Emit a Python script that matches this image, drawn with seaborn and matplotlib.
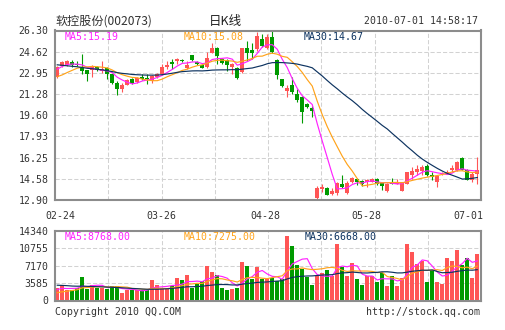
import numpy as np
import pandas as pd
import matplotlib
matplotlib.use("Agg")
import matplotlib.pyplot as plt
import seaborn as sns

# ---------------- data ----------------
x_labels = ["02-24", "03-26", "04-28", "05-28", "07-01"]

opens = [22.64, 23.49, 23.57, 23.80, 23.67, 23.45, 23.14, 23.14, 23.41, 23.09,
         23.36, 22.83, 22.16, 21.69, 22.03, 22.50, 22.25, 22.64, 22.56, 22.30,
         22.61, 22.83, 23.41, 23.84, 23.89, 23.97, 23.36, 24.34, 23.81, 23.57,
         23.41, 24.55, 24.95, 24.02, 23.97, 23.41, 23.36, 23.03, 24.89, 24.78,
         24.80, 25.59, 24.90, 25.80, 23.95, 22.45, 21.52, 22.00, 21.29, 21.05,
         20.48, 20.19, 13.05, 13.77, 13.87, 13.40, 13.45, 14.13, 13.45, 14.34,
         14.55, 14.39, 14.29, 14.34, 14.58, 14.24, 13.60, 14.31, 14.18, 13.65,
         14.18, 14.90, 15.11, 15.19, 15.56, 14.90, 14.31, 14.98, 14.98, 15.29,
         15.24, 16.24, 15.29, 14.50, 14.98]
highs = [23.50, 23.85, 23.95, 23.95, 23.89, 24.42, 23.20, 23.55, 23.49, 23.89,
         23.40, 22.88, 22.30, 22.16, 22.43, 22.56, 22.61, 22.83, 22.83, 22.75,
         22.96, 23.62, 23.89, 24.02, 24.15, 24.02, 23.89, 24.37, 23.89, 23.67,
         24.60, 25.35, 25.00, 24.15, 24.02, 23.75, 23.41, 24.95, 25.47, 25.35,
         26.20, 26.00, 25.99, 26.30, 24.05, 22.50, 22.00, 22.65, 21.70, 21.10,
         20.55, 20.30, 14.00, 14.13, 13.95, 13.87, 14.30, 14.87, 14.40, 14.70,
         14.65, 14.45, 14.55, 14.65, 14.60, 14.26, 14.24, 14.66, 14.58, 14.31,
         15.15, 15.50, 15.63, 15.63, 15.76, 15.10, 14.85, 15.15, 15.30, 15.63,
         15.95, 16.27, 15.37, 15.15, 16.27]
lows = [22.54, 23.40, 23.50, 23.45, 23.49, 22.90, 22.30, 22.61, 23.09, 22.96,
        22.50, 22.08, 21.24, 21.42, 21.98, 22.10, 22.16, 22.35, 22.08, 22.16,
        22.56, 22.78, 23.22, 23.22, 23.62, 23.81, 23.22, 23.89, 23.57, 23.30,
        23.36, 24.50, 23.62, 23.62, 23.09, 22.83, 22.50, 22.96, 23.89, 24.02,
        24.65, 25.00, 24.80, 24.50, 22.45, 21.85, 21.05, 21.25, 20.68, 18.97,
        20.20, 19.45, 12.90, 13.55, 13.26, 13.28, 13.30, 13.87, 13.35, 14.28,
        14.10, 14.00, 13.95, 14.30, 14.10, 13.71, 13.55, 14.13, 14.15, 13.60,
        14.15, 14.58, 14.85, 14.90, 14.80, 14.45, 13.91, 14.85, 14.95, 15.10,
        15.20, 15.25, 14.45, 14.31, 14.18]
closes = [23.41, 23.79, 23.89, 23.55, 23.55, 23.12, 22.83, 23.49, 23.14, 23.22,
          22.83, 22.16, 21.69, 22.03, 22.35, 22.16, 22.56, 22.43, 22.43, 22.69,
          22.83, 23.41, 23.57, 23.62, 24.02, 23.89, 23.57, 23.97, 23.62, 23.36,
          24.15, 24.95, 24.28, 23.75, 23.57, 23.62, 22.56, 24.89, 24.55, 24.55,
          25.90, 25.06, 25.78, 24.60, 22.75, 21.93, 21.78, 21.40, 20.78, 19.83,
          20.26, 19.97, 13.81, 13.94, 13.30, 13.62, 14.21, 13.91, 14.27, 14.61,
          14.29, 14.13, 14.47, 14.58, 14.18, 13.98, 14.18, 14.18, 14.31, 14.31,
          15.11, 15.19, 15.37, 15.50, 14.90, 14.71, 14.77, 15.05, 15.15, 15.45,
          15.90, 15.29, 14.50, 14.98, 15.24]
volumes = [2632, 3117, 2078, 2216, 2632, 4779, 2424, 3256, 2632, 2563,
           2424, 2909, 2909, 1524, 2078, 2078, 2216, 2078, 2216, 4156,
           3117, 2563, 2563, 3047, 4571, 4156, 5195, 2632, 3463, 3948,
           7135, 5888, 5195, 2563, 2216, 2424, 2632, 7966, 7135, 4450,
           7000, 4400, 4364, 4710, 4017, 4364, 13373, 11226, 7274, 6442,
           4848, 3117, 5056, 5749, 6234, 4987, 11641, 6927, 4987, 7758,
           4364, 3117, 4987, 4987, 3740, 5680, 2909, 4987, 2909, 4710,
           11641, 9909, 7481, 8104, 3810, 6234, 3810, 3325, 8866, 8104,
           10493, 7274, 8797, 4710, 9558]
# history before the first shown day (only feeds the moving averages)
prior_closes = [24.9, 25.1, 24.8, 24.6, 24.9, 24.7, 24.5, 24.6, 24.4, 24.7, 24.5,
                24.1, 23.8, 23.5, 23.6, 23.2, 23.0, 22.8, 22.7, 22.7,
                22.4, 22.0, 21.8, 21.9, 22.2,
                22.7, 23.1, 23.4, 23.6]
prior_volumes = [4200, 3800, 4500, 3600, 4100, 3900, 4300, 3700, 3500, 4000,
                 4400, 3800, 3600, 4200, 3900, 3700, 4100, 3800, 3900, 3500,
                 1100, 900, 800, 1000, 950,
                 1800, 2300, 2100, 2420]

price_tick_values = [12.90, 14.58, 16.25, 17.93, 19.60, 21.28, 22.95, 24.62, 26.30]
price_tick_labels = ["12.90", "14.58", "16.25", "17.93", "19.60", "21.28", "22.95", "24.62", "26.30"]
vol_tick_values = [0, 3585, 7170, 10755, 14340]
vol_tick_labels = ["0", "3585", "7170", "10755", "14340"]

title_left = "软控股份(002073)"
title_mid = "日K线"
title_right = "2010-07-01 14:58:17"
ma_price_text = ["MA5:15.19", "MA10:15.08", "MA30:14.67"]
ma_vol_text = ["MA5:8768.00", "MA10:7275.00", "MA30:6668.00"]
footer_left = "Copyright 2010 QQ.COM"
footer_right = "http://stock.qq.com"

# ---------------- styling ----------------
RED = "#ff5555"
GREEN = "#009a00"
C_MA5 = "#ff22ff"
C_MA10 = "#ffa31a"
C_MA30 = "#0d3360"
GRID = "#d2d2d2"
BORDER = "#8c8c8c"
TXT = "#333333"
MONO = "DejaVu Sans Mono"
FS = 7.1

W, H = 505, 330
def fx(px):
    return px / W
def fy(py):
    return 1 - py / H

n = len(closes)
idx = np.arange(n)
o = np.array(opens); c = np.array(closes)
hi = np.array(highs); lo = np.array(lows)
vol = np.array(volumes, dtype=float)
up = c >= o
direction = np.where(up, "up", "down")
colors = np.where(up, RED, GREEN)

allc = pd.Series(prior_closes + closes)
allv = pd.Series(prior_volumes + volumes, dtype=float)
k = len(prior_closes)
ma_p = {m: allc.rolling(m).mean().to_numpy()[k:] for m in (5, 10, 30)}
ma_v = {m: allv.rolling(m).mean().to_numpy()[k:] for m in (5, 10, 30)}

fig = plt.figure(figsize=(W / 100, H / 100), dpi=100)
fig.patch.set_facecolor("white")

ax = fig.add_axes([fx(55), fy(200), fx(481) - fx(55), fy(30.5) - fy(200)])
axv = fig.add_axes([fx(55), fy(300.5), fx(481) - fx(55), fy(231) - fy(300.5)])

x0, x1 = -0.45, n - 0.25
xgrid = np.linspace(x0, x1, 9)

# ---- candles ----
ax.vlines(idx, lo, hi, colors=colors, linewidth=0.8, zorder=3)
ax.bar(idx, np.maximum(np.abs(c - o), 0.03), bottom=np.minimum(o, c), width=0.8,
       color=colors, linewidth=0, zorder=4)

for m, col in ((5, C_MA5), (10, C_MA10), (30, C_MA30)):
    sns.lineplot(x=idx, y=ma_p[m], ax=ax, color=col, linewidth=0.85, zorder=5,
                 estimator=None)

# ---- volume ----
dfv = pd.DataFrame({"i": idx, "vol": vol, "dir": direction})
sns.barplot(data=dfv, x="i", y="vol", hue="dir", palette={"up": RED, "down": GREEN},
            dodge=False, width=0.8, saturation=1, linewidth=0, legend=False,
            ax=axv, zorder=3)
for m, col in ((5, C_MA5), (10, C_MA10), (30, C_MA30)):
    sns.lineplot(x=idx, y=ma_v[m], ax=axv, color=col, linewidth=0.85, zorder=5,
                 estimator=None)

# ---- axes formatting ----
for a in (ax, axv):
    a.set_xlim(x0, x1)
    a.set_xticks(xgrid[1:-1])
    a.set_xticklabels([])
    a.set_xlabel("")
    a.set_ylabel("")
    a.tick_params(length=0, labelsize=FS, labelcolor=TXT, pad=4.5)
    a.grid(True, color=GRID, linestyle=(0, (4, 2)), linewidth=0.75)
    a.set_axisbelow(True)
    for s in a.spines.values():
        s.set_color(BORDER)
        s.set_linewidth(1.5)
        s.set_zorder(10)
    a.set_facecolor("white")

ax.set_ylim(12.90, 26.30)
ax.set_yticks(price_tick_values)
ax.set_yticklabels(price_tick_labels, fontfamily=MONO)
axv.set_ylim(0, 14340)
axv.set_yticks(vol_tick_values)
axv.set_yticklabels(vol_tick_labels, fontfamily=MONO)

# ---- texts ----
fig.text(fx(55), fy(21.5), title_left, ha="left", va="center", fontsize=8.7,
         color=TXT, family=["Noto Sans CJK SC", "DejaVu Sans"])
fig.text(fx(225), fy(21.5), title_mid, ha="center", va="center", fontsize=9,
         color="#222222", family=["Noto Sans CJK SC", "DejaVu Sans"])
fig.text(fx(478), fy(21.5), title_right, ha="right", va="center", fontsize=FS,
         color=TXT, family=MONO)

for txt, col, px in zip(ma_price_text, (C_MA5, C_MA10, C_MA30), (65, 184, 304)):
    fig.text(fx(px), fy(37), txt, ha="left", va="center", fontsize=FS, color=col,
             family=MONO)
for txt, col, px in zip(ma_vol_text, (C_MA5, C_MA10, C_MA30), (65, 184, 305)):
    fig.text(fx(px), fy(237.5), txt, ha="left", va="center", fontsize=FS, color=col,
             family=MONO)

for lab, px in zip(x_labels, (60, 161.5, 265, 366.5, 468)):
    fig.text(fx(px), fy(216), lab, ha="center", va="center", fontsize=FS,
             color=TXT, family=MONO)

fig.text(fx(55), fy(312), footer_left, ha="left", va="center", fontsize=FS,
         color=TXT, family=MONO)
fig.text(fx(480), fy(312), footer_right, ha="right", va="center", fontsize=FS,
         color=TXT, family=MONO)

fig.savefig("out.png", dpi=100, facecolor="white")
